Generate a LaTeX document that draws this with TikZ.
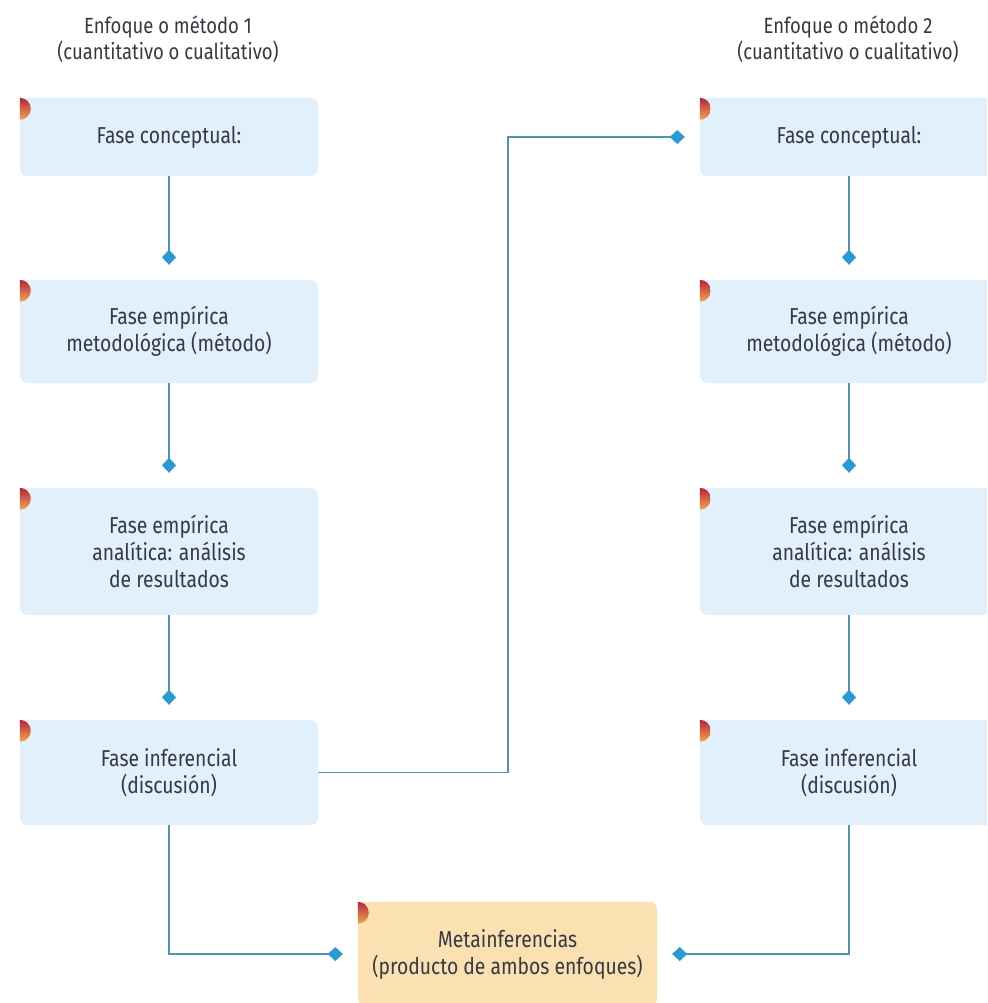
\documentclass[tikz,border=0pt]{standalone}
\usepackage{fontspec}
\setmainfont{Fira Sans}[FakeStretch=0.84]
\usetikzlibrary{arrows.meta,calc}
\definecolor{boxblue}{HTML}{E1F0FA}
\definecolor{boxorange}{HTML}{FBE1B2}
\definecolor{txtcol}{HTML}{353A42}
\definecolor{linecol}{HTML}{4F93B0}
\definecolor{tipcol}{HTML}{2A9AD4}
\definecolor{markred}{HTML}{B8233C}
\definecolor{markorange}{HTML}{F2A650}
\tikzset{
  phase/.style={fill=boxblue, rounded corners=7pt, inner sep=0pt, minimum width=298pt,
    align=center, text=txtcol, font=\fontsize{23}{27}\selectfont},
  meta/.style={phase, fill=boxorange, minimum width=299pt},
  header/.style={align=center, text=txtcol, inner sep=0pt, font=\fontsize{22}{26}\selectfont},
  conn/.style={draw=linecol, line width=1.6pt, shorten >=15pt,
    -{Kite[length=15pt,width=14pt,inset=7.5pt,fill=tipcol,color=tipcol]}},
}
\newcommand\boxmark[1]{%
  \begin{scope}
    \clip (#1.north west) rectangle ++(13,24);
    \shade[top color=markred, bottom color=markorange] ($(#1.north west)+(0,11)$) circle[radius=11pt];
  \end{scope}}
\begin{document}
\begin{tikzpicture}[x=1pt,y=-1pt]
\useasboundingbox (0,0) rectangle (987,1003);
\clip (0,0) rectangle (987,1003);
\fill[white] (0,0) rectangle (987,1003);

\node[header] (H1) at (168,39) {Enfoque o método 1\\(cuantitativo o cualitativo)};
\node[header] (H2) at (848,39) {Enfoque o método 2\\(cuantitativo o cualitativo)};

\node[phase, minimum height=78pt]  (L1) at (169,137)   {Fase conceptual:};
\node[phase, minimum height=103pt] (L2) at (169,331.5) {Fase empírica\\metodológica (método)};
\node[phase, minimum height=127pt] (L3) at (169,551.5) {Fase empírica\\analítica: análisis\\de resultados};
\node[phase, minimum height=105pt] (L4) at (169,772.5) {Fase inferencial\\(discusión)};

\node[phase, minimum height=78pt]  (R1) at (849,137)   {Fase conceptual:};
\node[phase, minimum height=103pt] (R2) at (849,331.5) {Fase empírica\\metodológica (método)};
\node[phase, minimum height=127pt] (R3) at (849,551.5) {Fase empírica\\analítica: análisis\\de resultados};
\node[phase, minimum height=105pt] (R4) at (849,772.5) {Fase inferencial\\(discusión)};

\node[meta, minimum height=104pt] (M) at (507.5,954) {Metainferencias\\(producto de ambos enfoques)};

\foreach \b in {L1,L2,L3,L4,R1,R2,R3,R4,M} {\boxmark{\b}}

\coordinate (bend) at (508,500);

\draw[conn] (L1) -- (L2);
\draw[conn] (L2) -- (L3);
\draw[conn] (L3) -- (L4);
\draw[conn] (R1) -- (R2);
\draw[conn] (R2) -- (R3);
\draw[conn] (R3) -- (R4);
\draw[conn] (L4.east) -- (L4.east -| bend) -- (bend |- R1.west) -- (R1.west);
\draw[conn] (L4.south) |- (M.west);
\draw[conn] (R4.south) |- (M.east);
\end{tikzpicture}
\end{document}
